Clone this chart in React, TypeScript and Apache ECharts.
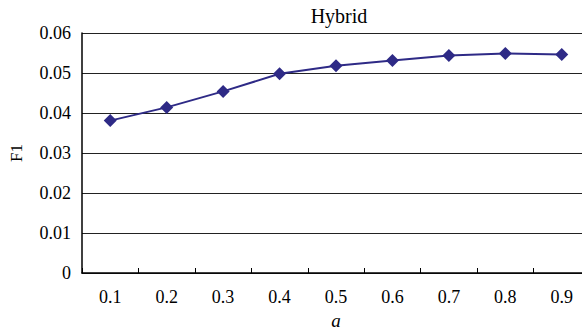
import React, { useEffect, useRef } from "react";
import * as echarts from "echarts";

const categories = ["0.1", "0.2", "0.3", "0.4", "0.5", "0.6", "0.7", "0.8", "0.9"];
const f1Values = [0.0381, 0.0414, 0.0454, 0.0498, 0.0518, 0.0531, 0.0544, 0.0549, 0.0546];
const yTicks = { min: 0, max: 0.06, interval: 0.01 };

const FONT = "Liberation Serif";

export default function App() {
  const ref = useRef<HTMLDivElement>(null);
  useEffect(() => {
    if (!ref.current) return;
    const chart = echarts.init(ref.current, null, { renderer: "svg" });
    chart.setOption({
      animation: false,
      backgroundColor: "#ffffff",
      title: {
        text: "Hybrid",
        left: 334,
        top: 1,
        textAlign: "center",
        textStyle: { fontFamily: FONT, fontSize: 20, fontWeight: "normal", color: "#000" },
      },
      grid: {
        left: 82,
        right: -8,
        top: 33,
        bottom: 59,
        containLabel: false,
        outerBoundsMode: "none",
      },
      xAxis: {
        type: "category",
        data: categories,
        boundaryGap: true,
        name: "a",
        nameLocation: "middle",
        nameGap: 38,
        nameTextStyle: { fontFamily: FONT, fontSize: 19, fontStyle: "italic", color: "#000" },
        axisLine: { lineStyle: { color: "#000", width: 1.5 } },
        axisTick: { show: true, inside: true, length: 5, lineStyle: { color: "#000" } },
        axisLabel: { fontFamily: FONT, fontSize: 18, color: "#000", margin: 15 },
        splitLine: { show: false },
      },
      yAxis: {
        type: "value",
        min: yTicks.min,
        max: yTicks.max,
        interval: yTicks.interval,
        name: "F1",
        nameLocation: "middle",
        nameGap: 57,
        nameRotate: 90,
        nameTextStyle: { fontFamily: FONT, fontSize: 17, color: "#000" },
        axisLine: { show: true, lineStyle: { color: "#000", width: 1.5 } },
        axisTick: { show: false },
        axisLabel: {
          fontFamily: FONT,
          fontSize: 18,
          color: "#000",
          margin: 11,
          formatter: (v: number) => (v === 0 ? "0" : v.toFixed(2)),
        },
        splitLine: { show: true, lineStyle: { color: "#222", width: 1.2 } },
      },
      series: [
        {
          type: "line",
          data: f1Values,
          symbol: "diamond",
          symbolSize: 13,
          itemStyle: { color: "#2e2a86" },
          lineStyle: { color: "#2e2a86", width: 2 },
        },
      ],
    });
    return () => chart.dispose();
  }, []);
  return (
    <div
      ref={ref}
      style={{ position: "absolute", left: 0, top: 0, width: 582, height: 332 }}
    />
  );
}
